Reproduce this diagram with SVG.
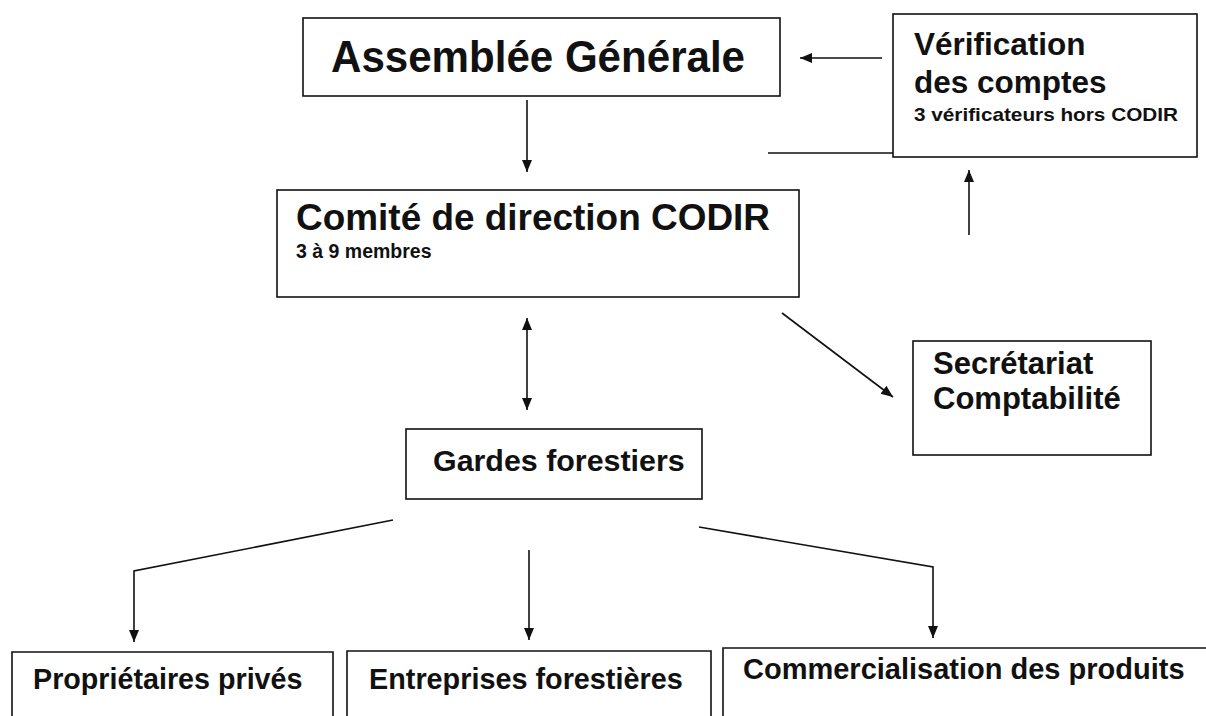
<svg xmlns="http://www.w3.org/2000/svg" width="1206" height="716" viewBox="0 0 1206 716">
<style>
.box{fill:#fff;stroke:#111;stroke-width:1.6}
.t{font-family:"Liberation Sans",Arial,sans-serif;font-weight:bold;fill:#111}
.c{fill:none;stroke:#111;stroke-width:1.6}
</style>
<defs>
<marker id="ah" viewBox="0 0 12 12" refX="12" refY="6" markerWidth="12" markerHeight="12" markerUnits="userSpaceOnUse" orient="auto-start-reverse">
<path d="M0,1 L12,6 L0,11 Z" fill="#111"/>
</marker>
</defs>
<rect width="1206" height="716" fill="#fff"/>
<g id="connectors">
<line class="c" x1="882" y1="58" x2="800" y2="58" marker-end="url(#ah)"/>
<line class="c" x1="768" y1="153" x2="893" y2="153"/>
<line class="c" x1="969" y1="235" x2="969" y2="170" marker-end="url(#ah)"/>
<line class="c" x1="527" y1="100" x2="527" y2="172" marker-end="url(#ah)"/>
<line class="c" x1="527" y1="318" x2="527" y2="410" marker-start="url(#ah)" marker-end="url(#ah)"/>
<line class="c" x1="782" y1="313" x2="893" y2="397" marker-end="url(#ah)"/>
<polyline class="c" points="393,520 134,571 134,642" marker-end="url(#ah)"/>
<line class="c" x1="529" y1="550" x2="529" y2="640" marker-end="url(#ah)"/>
<polyline class="c" points="699,527 933,567 933,638" marker-end="url(#ah)"/>
</g>
<g id="assemblee">
<rect class="box" x="303" y="18" width="477" height="78"/>
<text class="t" x="331" y="72" font-size="45" textLength="414" lengthAdjust="spacingAndGlyphs">Assemblée Générale</text>
</g>
<g id="verification">
<rect class="box" x="893" y="14" width="304" height="143"/>
<text class="t" x="914" y="55" font-size="31.5">Vérification</text>
<text class="t" x="914" y="93" font-size="31.5">des comptes</text>
<text class="t" x="914" y="121" font-size="19" textLength="264" lengthAdjust="spacingAndGlyphs">3 vérificateurs hors CODIR</text>
</g>
<g id="codir">
<rect class="box" x="277" y="190" width="522" height="107"/>
<text class="t" x="296" y="230" font-size="37.5" textLength="474" lengthAdjust="spacingAndGlyphs">Comité de direction CODIR</text>
<text class="t" x="296" y="258" font-size="19.5">3 à 9 membres</text>
</g>
<g id="secretariat">
<rect class="box" x="913" y="341" width="238" height="114"/>
<text class="t" x="933" y="374" font-size="31">Secrétariat</text>
<text class="t" x="933" y="409" font-size="31">Comptabilité</text>
</g>
<g id="gardes">
<rect class="box" x="406" y="429" width="296" height="70"/>
<text class="t" x="433" y="471" font-size="30.4">Gardes forestiers</text>
</g>
<g id="proprietaires">
<path class="c" d="M12,720 V652 H333 V720"/>
<text class="t" x="33" y="689" font-size="28.7">Propriétaires privés</text>
</g>
<g id="entreprises">
<path class="c" d="M347,720 V651 H711 V720"/>
<text class="t" x="369" y="689" font-size="28.8">Entreprises forestières</text>
</g>
<g id="commercialisation">
<path class="c" d="M723,720 V648 H1210"/>
<text class="t" x="743" y="679" font-size="29">Commercialisation des produits</text>
</g>
</svg>
